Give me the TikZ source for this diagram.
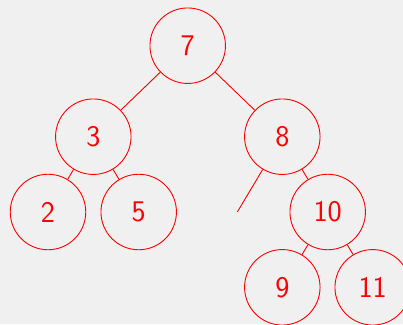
\documentclass[tikz,border=0pt]{standalone}
\definecolor{bg}{HTML}{F0F0F0}
\definecolor{nodered}{HTML}{FF0000}
\begin{document}
\begin{tikzpicture}[x=1pt,y=-1pt,
  treenode/.style={circle,draw=nodered,text=nodered,line width=0.9pt,minimum size=75.5pt,inner sep=0pt,font=\fontsize{30}{36}\selectfont\sffamily},
  treeedge/.style={draw=nodered,line width=0.9pt}]
\fill[bg] (0,0) rectangle (403,324);
\clip (0,0) rectangle (403,324);
\node[treenode] (n7) at (187.7,45.7) {7};
\node[treenode] (n3) at (93.3,136.7) {3};
\node[treenode] (n8) at (282.3,136.7) {8};
\node[treenode] (n2) at (48,212) {2};
\node[treenode] (n5) at (138.7,212) {5};
\node[treenode] (n10) at (327.7,212) {10};
\node[treenode] (n9) at (282.3,287.3) {9};
\node[treenode] (n11) at (372.7,287.3) {11};
\coordinate (e) at (237.3,212);
\draw[treeedge] (n7) -- (n3);
\draw[treeedge] (n7) -- (n8);
\draw[treeedge] (n3) -- (n2);
\draw[treeedge] (n3) -- (n5);
\draw[treeedge] (n8) -- (e);
\draw[treeedge] (n8) -- (n10);
\draw[treeedge] (n10) -- (n9);
\draw[treeedge] (n10) -- (n11);
\end{tikzpicture}
\end{document}
